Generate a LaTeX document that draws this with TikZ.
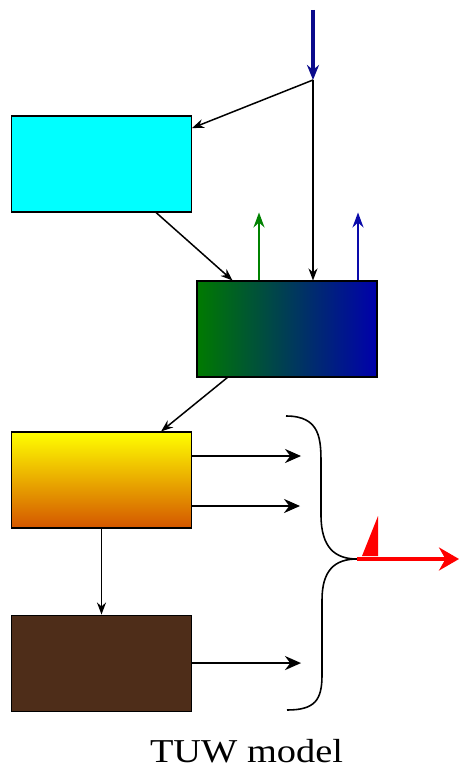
\documentclass[tikz,border=0pt]{standalone}
\usepackage{fontspec}
\usepackage{tikz}
\usetikzlibrary{arrows.meta}
\usetikzlibrary{positioning}
\usetikzlibrary{calc}

\newfontfamily\titlefont{Liberation Serif}
\definecolor{cyanbox}{RGB}{0,255,255}
\definecolor{grnleft}{RGB}{0,122,0}
\definecolor{bluright}{RGB}{0,0,172}
\definecolor{yeltop}{RGB}{255,255,0}
\definecolor{orabot}{RGB}{212,86,0}
\definecolor{soilbrown}{RGB}{78,45,25}
\definecolor{precip}{RGB}{10,10,140}
\definecolor{etgreen}{RGB}{0,130,0}
\definecolor{etblue}{RGB}{10,10,170}

\begin{document}
\begin{tikzpicture}[
store/.style={draw, line width=0.6pt, minimum width=3.6cm, minimum height=1.92cm, inner sep=0pt},
flow/.style={-{Stealth[length=2.4mm, width=1.8mm]}, line width=0.85pt},
outflow/.style={-{Stealth[length=3.2mm, width=2.8mm]}, line width=1.4pt},
evap/.style={-{Stealth[length=3mm, width=2.2mm]}, line width=1.1pt}]
\useasboundingbox (0,0) rectangle (9.18,-15.34);

% storages
\node[store, fill=cyanbox] (snow) at (2.03,-3.28) {};
\node[store, left color=grnleft, right color=bluright] (inter) at (5.74,-6.58) {};
\node[store, top color=yeltop, bottom color=orabot] (soil) at (2.03,-9.6) {};
\node[store, fill=soilbrown] (ground) [below=1.72cm of soil] {};

% input
\coordinate (P) at (6.26,-0.2);
\coordinate (J) at (6.26,-1.6);
\draw[-{Stealth[length=3mm, width=2.4mm]}, line width=2.3pt, precip] (P) -- (J);
\draw[flow] (J) -- (snow);
\draw[flow] (J) -- (J |- inter.north);
\draw[flow] (snow) -- (inter);
\draw[flow] (inter) -- (soil);
\draw[flow] (soil) -- (ground);

% evaporation
\coordinate (Eg) at ($(inter.north)+(-0.56,0)$);
\coordinate (Eb) at ($(inter.north)+(1.42,0)$);
\draw[evap, etgreen] (Eg) -- ++(0,1.36);
\draw[evap, etblue] (Eb) -- ++(0,1.36);

% runoff components
\coordinate (Q0) at ($(soil.east)+(0,0.48)$);
\coordinate (Q1) at ($(soil.east)+(0,-0.52)$);
\coordinate (Q2) at (ground.east);
\draw[outflow] (Q0) -- ++(2.18,0);
\draw[outflow] (Q1) -- ++(2.16,0);
\draw[outflow] (Q2) -- ++(2.18,0);

% brace
\coordinate (tip) at (7.14,-11.18);
\draw[line width=0.9pt] (5.72,-8.32) .. controls (6.42,-8.32) and (6.42,-8.8) .. (6.42,-9.3)
  -- (6.42,-10.3) .. controls (6.42,-10.95) and (6.7,-11.18) .. (tip)
  .. controls (6.7,-11.18) and (6.44,-11.4) .. (6.44,-12.0)
  -- (6.44,-13.5) .. controls (6.44,-14.0) and (6.3,-14.2) .. (5.74,-14.2);

% total runoff
\coordinate (Q) at (9.18,-11.18);
\draw[-{Stealth[length=4mm, width=4.6mm]}, line width=2.3pt, red] (tip) -- (Q);
\fill[red] (7.56,-10.32) -- (7.24,-11.12) -- (7.56,-11.12) -- cycle;

\node[anchor=base, inner sep=0pt, xscale=1.15] (title) at (4.93,-15.24) {\titlefont\fontsize{19}{23}\selectfont TUW model};
\end{tikzpicture}
\end{document}
